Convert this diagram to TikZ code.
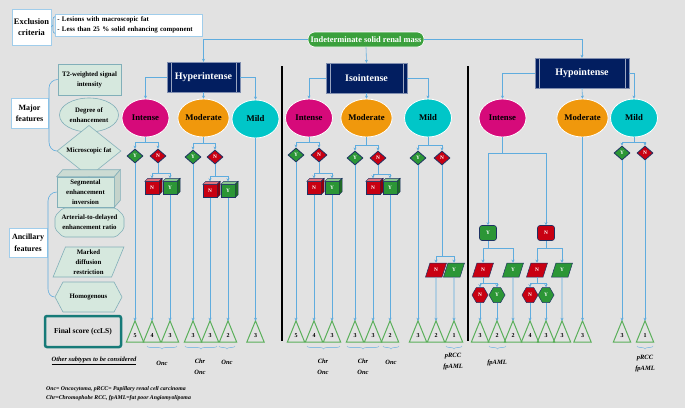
\documentclass[tikz,border=0pt]{standalone}
\usepackage{fontspec}
\setmainfont{Liberation Serif}
\usetikzlibrary{shapes.geometric,shapes.misc,shapes.symbols,arrows.meta,decorations.pathreplacing}
\definecolor{bg}{RGB}{226,226,226}
\definecolor{navy}{RGB}{2,30,96}
\definecolor{indgreen}{RGB}{58,160,60}
\definecolor{magen}{RGB}{214,10,122}
\definecolor{orng}{RGB}{240,152,12}
\definecolor{cyn}{RGB}{0,198,200}
\definecolor{ygreen}{RGB}{44,150,54}
\definecolor{nred}{RGB}{200,0,18}
\definecolor{lblue}{RGB}{95,172,222}
\definecolor{tgreen}{RGB}{90,175,90}
\definecolor{mint}{RGB}{214,232,222}
\definecolor{mintb}{RGB}{130,175,185}
\definecolor{teal2}{RGB}{22,122,120}
\definecolor{dborder}{RGB}{30,50,100}
\definecolor{bracec}{RGB}{140,190,225}
\definecolor{wbord}{RGB}{160,205,235}
\newcommand\myfs[1]{\fontsize{#1}{#1}\selectfont}
\newcommand\mkcube[5]{%
 \node[cubef, fill=#4] (#1) at (#2,#3) {#5};
 \filldraw[fill=#4!55!white, draw=dborder, line width=0.4pt] (#1.north west) -- ++(3pt,3pt) -- ([shift={(3pt,3pt)}]#1.north east) -- (#1.north east) -- cycle;
 \filldraw[fill=#4!70!black, draw=dborder, line width=0.4pt] (#1.north east) -- ++(3pt,3pt) -- ([shift={(3pt,3pt)}]#1.south east) -- (#1.south east) -- cycle;
}
\newcommand\tri[3]{%
 \node[trin] (#1) at (#2,331.5) {#3};
 \draw[tgreen, line width=1pt] (#1.south west) -- (#1.north) -- (#1.south east) -- cycle;
}
\newcommand\branch[4]{%
 \draw[conn] (#1.south) -- (#1.south |- 0,#2);
 \draw[arr] (#1.south |- 0,#2) -| (#3);
 \draw[arr] (#1.south |- 0,#2) -| (#4);
}
\newcommand\ubr[2]{\draw[bracec, line width=0.6pt, decorate, decoration={brace, mirror, amplitude=3pt}] (#1,346) -- (#2,346);}
\begin{document}
\begin{tikzpicture}[x=1pt,y=-1pt, font=\bfseries,
 conn/.style={lblue, line width=0.6pt},
 arr/.style={conn, -{Stealth[length=3pt,width=3pt]}},
 navybox/.style={fill=navy, draw=navy!50!white, line width=0.4pt, text=white, font=\bfseries\myfs{10}, minimum height=30pt, inner sep=0pt,
   path picture={\draw[white!60!navy, line width=0.5pt] ([xshift=4pt]path picture bounding box.north west) -- ([xshift=4pt]path picture bounding box.south west);
   \draw[white!60!navy, line width=0.5pt] ([xshift=-4pt]path picture bounding box.north east) -- ([xshift=-4pt]path picture bounding box.south east);}},
 cat/.style={ellipse, draw=white, line width=0.8pt, minimum width=47pt, minimum height=38pt, inner sep=0pt, font=\bfseries\myfs{8.7}},
 dia/.style={diamond, draw=dborder, line width=0.8pt, minimum width=16pt, minimum height=14pt, inner sep=0pt, text=white, font=\bfseries\myfs{5.3}},
 cubef/.style={rectangle, draw=dborder, line width=0.4pt, minimum width=14pt, minimum height=13pt, inner sep=0pt, text=white, font=\bfseries\myfs{5.3}},
 ybox/.style={rectangle, rounded corners=2.5pt, draw=dborder, line width=0.6pt, minimum width=17pt, minimum height=15pt, inner sep=0pt, text=white, font=\bfseries\myfs{5.3}},
 para/.style={trapezium, trapezium left angle=68, trapezium right angle=112, trapezium stretches=true, draw=dborder, line width=0.5pt, minimum width=21pt, minimum height=14pt, inner sep=0pt, text=white, font=\bfseries\myfs{5.3}},
 hexs/.style={signal, signal to=west and east, signal pointer angle=120, draw=dborder, line width=0.5pt, minimum width=16pt, minimum height=15pt, inner sep=0pt, text=white, font=\bfseries\myfs{5.3}},
 trin/.style={rectangle, minimum width=17pt, minimum height=21pt, inner sep=0pt, text height=11.5pt, text depth=0pt, font=\bfseries\myfs{6}},
 wbox/.style={rectangle, fill=white, draw=wbord, line width=0.8pt, inner sep=1pt, align=center},
 feat/.style={fill=mint, draw=mintb, line width=0.6pt, inner sep=0pt, align=center, font=\bfseries\fontsize{6.8}{10}\selectfont},
 lab/.style={font=\bfseries\itshape\fontsize{6.5}{11}\selectfont, align=center, inner sep=0pt}
]
\fill[bg] (0,0) rectangle (685,408);
\useasboundingbox (0,0) rectangle (685,408);

% ---------- left panel ----------
\node[wbox, minimum width=39pt, minimum height=36pt, font=\bfseries\fontsize{8.4}{11}\selectfont] (excl) at (31.5,27) {Exclusion\\criteria};
\node[wbox, text width=143pt, minimum height=22pt, align=left, anchor=west, font=\bfseries\fontsize{6.9}{9.5}\selectfont, inner xsep=2pt, inner ysep=1.5pt] (crit) at (55,25) {- Lesions with macroscopic fat\\- Less than 25 \% solid enhancing component};
\draw[conn] ([yshift=-3pt]crit.north west) to[out=180,in=90] ([xshift=-2pt,yshift=-6pt]crit.north west) -- ([xshift=-2pt,yshift=6pt]crit.south west) to[out=-90,in=180] ([yshift=3pt]crit.south west);
\draw[conn] (excl.east) -- ([xshift=-2pt]crit.west);

\node[wbox, minimum width=37pt, minimum height=30pt, font=\bfseries\fontsize{8}{11}\selectfont] (major) at (29.5,113) {Major\\features};
\node[feat, rectangle, minimum width=63pt, minimum height=31pt] (t2) at (89.5,79.5) {T2-weighted signal\\intensity};
\node[feat, ellipse, minimum width=59pt, minimum height=34pt] (deg) at (89,115) {Degree of\\enhancement};
\node[feat, diamond, minimum width=64pt, minimum height=35pt] (micro) at (89,151) {Microscopic fat};
\draw[conn] (t2.west) to[out=180,in=90] (49,88) -- (49,142) to[out=-90,in=180] (micro.west);

\node[feat, rectangle, minimum width=57pt, minimum height=30pt] (seg) at (85.5,192) {Segmental\\enhancement\\inversion};
\filldraw[fill=mint!88!gray, draw=mintb, line width=0.6pt] (seg.north west) -- ++(6pt,7pt) -- ([shift={(6pt,7pt)}]seg.north east) -- (seg.north east) -- cycle;
\filldraw[fill=mint!80!gray, draw=mintb, line width=0.6pt] (seg.north east) -- ++(6pt,7pt) -- ([shift={(6pt,7pt)}]seg.south east) -- (seg.south east) -- cycle;
\node[feat, chamfered rectangle, chamfered rectangle xsep=4pt, chamfered rectangle ysep=4pt, rounded corners=2pt, minimum width=69pt, minimum height=29pt] (art) at (89.5,222.5) {Arterial-to-delayed\\enhancement ratio};
\node[feat, trapezium, trapezium left angle=72, trapezium right angle=108, trapezium stretches=true, minimum width=71pt, minimum height=30pt] (mdr) at (88.5,262) {Marked\\diffusion\\restriction};
\node[feat, signal, signal to=west and east, signal pointer angle=124, minimum width=67pt, minimum height=30pt] (homog) at (88.5,297) {Homogenous};
\node[wbox, minimum width=38pt, minimum height=29pt, font=\bfseries\fontsize{8}{12}\selectfont] (anc) at (28,242.5) {Ancillary\\features};
\draw[conn] (seg.west) to[out=180,in=90] (48,201) -- (48,289) to[out=-90,in=180] (homog.west);

\node[rectangle, rounded corners=2pt, fill=black!12, draw=teal2, line width=2.5pt, minimum width=76pt, minimum height=31pt, font=\bfseries\myfs{7.5}] (final) at (83,331.5) {Final score (ccLS)};
\node[font=\bfseries\itshape\myfs{6.5}, inner sep=0pt] (other) at (94,361) {\underline{Other subtypes to be considered}};
\node[anchor=west, inner sep=0pt, font=\bfseries\itshape\myfs{5.8}] (fn1) at (46,389) {Onc= Oncocytoma, pRCC= Papillary renal cell carcinoma};
\node[anchor=west, inner sep=0pt, font=\bfseries\itshape\myfs{5.8}] (fn2) at (46,398) {Chr=Chromophobe RCC, fpAML=fat poor Angiomyolipoma};

% ---------- top ----------
\node[rectangle, rounded corners=7pt, fill=indgreen, draw=white, line width=0.6pt, text=white, minimum width=116pt, minimum height=15pt, inner sep=0pt, font=\bfseries\myfs{8.4}] (ind) at (366,39.5) {Indeterminate solid renal mass};
\node[navybox, minimum width=73pt] (hyper) at (203.5,77) {Hyperintense};
\node[navybox, minimum width=81pt] (iso) at (366.5,78) {Isointense};
\node[navybox, minimum width=94pt] (hypo) at (582,73) {Hypointense};
\draw[arr] (ind.west) -| (hyper.north);
\draw[arr] (ind.south) -- (iso.north);
\draw[arr] (ind.east) -| (hypo.north);

% separators
\draw[black, line width=2.6pt] (282,66) -- (282,341);
\draw[black, line width=2.6pt] (468,66) -- (468,341);

% ---------- Hyperintense ----------
\node[cat, fill=magen] (hI) at (145.5,118) {Intense};
\node[cat, fill=orng] (hM) at (203.5,118) {Moderate};
\node[cat, fill=cyn] (hL) at (255.5,119) {Mild};
\draw[arr] (hyper.west) -| (hI.north);
\draw[arr] (hyper.south) -- (hM.north);
\draw[arr] (hyper.east) -| (hL.north);

\node[dia, fill=ygreen] (hIY) at (135,156) {Y};
\node[dia, fill=nred] (hIN) at (158,156) {N};
\branch{hI}{142}{hIY.north}{hIN.north}
\mkcube{hINn}{152}{188}{nred}{N}
\mkcube{hINy}{170}{188}{ygreen}{Y}
\branch{hIN}{173}{[yshift=3pt]hINn.north}{[yshift=3pt]hINy.north}

\node[dia, fill=ygreen] (hMY) at (193,157) {Y};
\node[dia, fill=nred] (hMN) at (215,157) {N};
\branch{hM}{143}{hMY.north}{hMN.north}
\mkcube{hMNn}{210}{191}{nred}{N}
\mkcube{hMNy}{228}{191}{ygreen}{Y}
\branch{hMN}{176}{[yshift=3pt]hMNn.north}{[yshift=3pt]hMNy.north}

\tri{a1}{135}{5}\tri{a2}{152}{4}\tri{a3}{170}{3}\tri{a4}{193}{3}\tri{a5}{210}{3}\tri{a6}{228}{2}\tri{a7}{255.5}{3}
\draw[arr] (hIY.south) -- (a1.north);
\draw[arr] (hINn.south) -- (a2.north);
\draw[arr] (hINy.south) -- (a3.north);
\draw[arr] (hMY.south) -- (a4.north);
\draw[arr] (hMNn.south) -- (a5.north);
\draw[arr] (hMNy.south) -- (a6.north);
\draw[arr] (hL.south) -- (a7.north);

% ---------- Isointense ----------
\node[cat, fill=magen] (iI) at (309,118) {Intense};
\node[cat, fill=orng] (iM) at (366.5,118) {Moderate};
\node[cat, fill=cyn] (iL) at (428,118) {Mild};
\draw[arr] (iso.west) -| (iI.north);
\draw[arr] (iso.south) -- (iM.north);
\draw[arr] (iso.east) -| (iL.north);

\node[dia, fill=ygreen] (iIY) at (296,155) {Y};
\node[dia, fill=nred] (iIN) at (319,155) {N};
\branch{iI}{142}{iIY.north}{iIN.north}
\mkcube{iINn}{314}{188}{nred}{N}
\mkcube{iINy}{332}{188}{ygreen}{Y}
\branch{iIN}{173}{[yshift=3pt]iINn.north}{[yshift=3pt]iINy.north}

\node[dia, fill=ygreen] (iMY) at (355,158) {Y};
\node[dia, fill=nred] (iMN) at (378,158) {N};
\branch{iM}{145}{iMY.north}{iMN.north}
\mkcube{iMNn}{373}{188}{nred}{N}
\mkcube{iMNy}{390}{188}{ygreen}{Y}
\branch{iMN}{174}{[yshift=3pt]iMNn.north}{[yshift=3pt]iMNy.north}

\node[dia, fill=ygreen] (iLY) at (418,158) {Y};
\node[dia, fill=nred] (iLN) at (442,158) {N};
\branch{iL}{145}{iLY.north}{iLN.north}
\node[para, fill=nred] (iLNn) at (436,270) {N};
\node[para, fill=ygreen] (iLNy) at (454,270) {Y};
\branch{iLN}{256}{iLNn.north}{iLNy.north}

\tri{b1}{296}{5}\tri{b2}{314}{4}\tri{b3}{332}{3}\tri{b4}{355}{3}\tri{b5}{373}{3}\tri{b6}{390}{2}\tri{b7}{418}{3}\tri{b8}{436}{2}\tri{b9}{454}{1}
\draw[arr] (iIY.south) -- (b1.north);
\draw[arr] (iINn.south) -- (b2.north);
\draw[arr] (iINy.south) -- (b3.north);
\draw[arr] (iMY.south) -- (b4.north);
\draw[arr] (iMNn.south) -- (b5.north);
\draw[arr] (iMNy.south) -- (b6.north);
\draw[arr] (iLY.south) -- (b7.north);
\draw[arr] (iLNn.south) -- (b8.north);
\draw[arr] (iLNy.south) -- (b9.north);

% ---------- Hypointense ----------
\node[cat, fill=magen] (oI) at (502.5,118) {Intense};
\node[cat, fill=orng] (oM) at (582.5,118) {Moderate};
\node[cat, fill=cyn] (oL) at (634,118) {Mild};
\draw[arr] (hypo.west) -| (oI.north);
\draw[arr] (hypo.south) -- (oM.north);
\draw[arr] (hypo.east) -| (oL.north);

\node[ybox, fill=ygreen] (oIY) at (488,233) {Y};
\node[ybox, fill=nred] (oIN) at (546,233) {N};
\branch{oI}{153}{oIY.north}{oIN.north}
\node[para, fill=nred] (oYN) at (483,270) {N};
\node[para, fill=ygreen] (oYY) at (513,270) {Y};
\branch{oIY}{248}{oYN.north}{oYY.north}
\node[para, fill=nred] (oNN) at (537,270) {N};
\node[para, fill=ygreen] (oNY) at (562,270) {Y};
\branch{oIN}{248}{oNN.north}{oNY.north}
\node[hexs, fill=nred] (oYNn) at (480,295) {N};
\node[hexs, fill=ygreen] (oYNy) at (497,295) {Y};
\branch{oYN}{283}{oYNn.north}{oYNy.north}
\node[hexs, fill=nred] (oNNn) at (530,295) {N};
\node[hexs, fill=ygreen] (oNNy) at (546,295) {Y};
\branch{oNN}{283}{oNNn.north}{oNNy.north}

\node[dia, fill=ygreen] (oLY) at (622,153) {Y};
\node[dia, fill=nred] (oLN) at (645,153) {N};
\branch{oL}{142}{oLY.north}{oLN.north}

\tri{c1}{480}{3}\tri{c2}{497}{2}\tri{c3}{513}{2}\tri{c4}{530}{4}\tri{c5}{546}{3}\tri{c6}{562}{3}\tri{c7}{582.5}{3}\tri{c8}{622}{3}\tri{c9}{645}{1}
\draw[arr] (oYNn.south) -- (c1.north);
\draw[arr] (oYNy.south) -- (c2.north);
\draw[arr] (oYY.south) -- (c3.north);
\draw[arr] (oNNn.south) -- (c4.north);
\draw[arr] (oNNy.south) -- (c5.north);
\draw[arr] (oNY.south) -- (c6.north);
\draw[arr] (oM.south) -- (c7.north);
\draw[arr] (oLY.south) -- (c8.north);
\draw[arr] (oLN.south) -- (c9.north);

% ---------- braces and subtypes ----------
\ubr{147}{177}\ubr{185}{217}\ubr{219}{235}
\ubr{307}{340}\ubr{347}{379}\ubr{383}{399}\ubr{446}{462}
\ubr{489}{506}\ubr{637}{653}
\node[lab] (s1) at (162,363) {Onc};
\node[lab] (s2) at (200,366.5) {Chr\\Onc};
\node[lab] (s3) at (227,362) {Onc};
\node[lab] (s4) at (323,366.5) {Chr\\Onc};
\node[lab] (s5) at (363,366.5) {Chr\\Onc};
\node[lab] (s6) at (391,362) {Onc};
\node[lab] (s7) at (453,361.5) {pRCC\\fpAML};
\node[lab] (s8) at (497,363) {fpAML};
\node[lab] (s9) at (645,364) {pRCC\\fpAML};
\end{tikzpicture}
\end{document}
